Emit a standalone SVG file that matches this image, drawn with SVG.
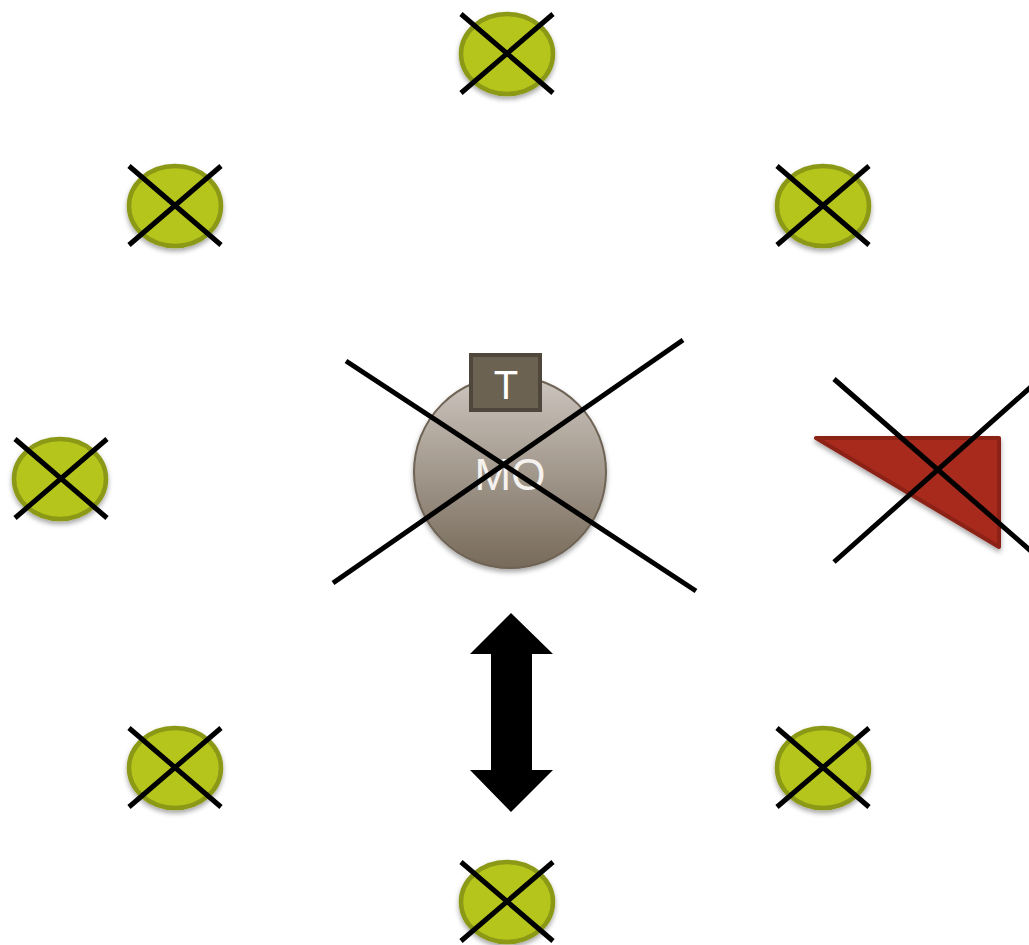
<svg xmlns="http://www.w3.org/2000/svg" width="1029" height="945" viewBox="0 0 1029 945">
<style>
.node{fill:#b5c51b;stroke:#8b9914;stroke-width:4.5}
.x{stroke:#000;stroke-width:5;fill:none}
</style>
<defs>
<filter id="sh" x="-30%" y="-30%" width="160%" height="160%">
<feDropShadow dx="0" dy="3" stdDeviation="2.5" flood-color="#000" flood-opacity="0.35"/>
</filter>
<linearGradient id="mo" x1="0" y1="0" x2="0" y2="1">
<stop offset="0" stop-color="#cdc6bf"/>
<stop offset="1" stop-color="#776a5a"/>
</linearGradient>
</defs>
<rect width="1029" height="945" fill="#fff"/>
<g id="n-top"><ellipse class="node" filter="url(#sh)" cx="507" cy="54" rx="46" ry="40"/><path class="x" d="M461,14 L553,93 M461,93 L553,14"/></g>
<g id="n-topleft"><ellipse class="node" filter="url(#sh)" cx="175" cy="206" rx="46" ry="40"/><path class="x" d="M129,166 L221,245 M129,245 L221,166"/></g>
<g id="n-topright"><ellipse class="node" filter="url(#sh)" cx="823" cy="206" rx="46" ry="40"/><path class="x" d="M777,166 L869,245 M777,245 L869,166"/></g>
<g id="n-left"><ellipse class="node" filter="url(#sh)" cx="60" cy="479" rx="46" ry="40"/><path class="x" d="M15,439 L107,518 M15,518 L107,439"/></g>
<g id="n-bottomleft"><ellipse class="node" filter="url(#sh)" cx="175" cy="768" rx="46" ry="40"/><path class="x" d="M129,728 L221,807 M129,807 L221,728"/></g>
<g id="n-bottomright"><ellipse class="node" filter="url(#sh)" cx="823" cy="768" rx="46" ry="40"/><path class="x" d="M777,728 L869,807 M777,807 L869,728"/></g>
<g id="n-bottom"><ellipse class="node" filter="url(#sh)" cx="507" cy="902" rx="46" ry="40"/><path class="x" d="M461,862 L553,941 M461,941 L553,862"/></g>
<g id="n-mo">
<circle cx="510" cy="472" r="96" fill="url(#mo)" stroke="#6e6354" stroke-width="2" filter="url(#sh)"/>
<text x="510" y="490" text-anchor="middle" font-family="Liberation Sans, Arial, sans-serif" font-size="44" fill="#f4f1ee">MO</text>
<rect x="471" y="355" width="69" height="55" fill="#6c6252" stroke="#4f473c" stroke-width="4"/>
<text x="506" y="399" text-anchor="middle" font-family="Liberation Sans, Arial, sans-serif" font-size="40" fill="#fff">T</text>
<path class="x" d="M346,361 L696,591 M333,583 L683,340"/>
</g>
<g id="n-triangle">
<polygon points="816,438 999,438 999,547" fill="#a72a1e" stroke="#8c2016" stroke-width="4" stroke-linejoin="round" filter="url(#sh)"/>
<path class="x" d="M834,379 L1032,552 M834,562 L1032,386"/>
</g>
<g id="connectors">
<polygon points="511,613 553,654 532,654 532,770 553,770 511,812 470,770 491,770 491,654 470,654" fill="#000"/>
</g>
</svg>
